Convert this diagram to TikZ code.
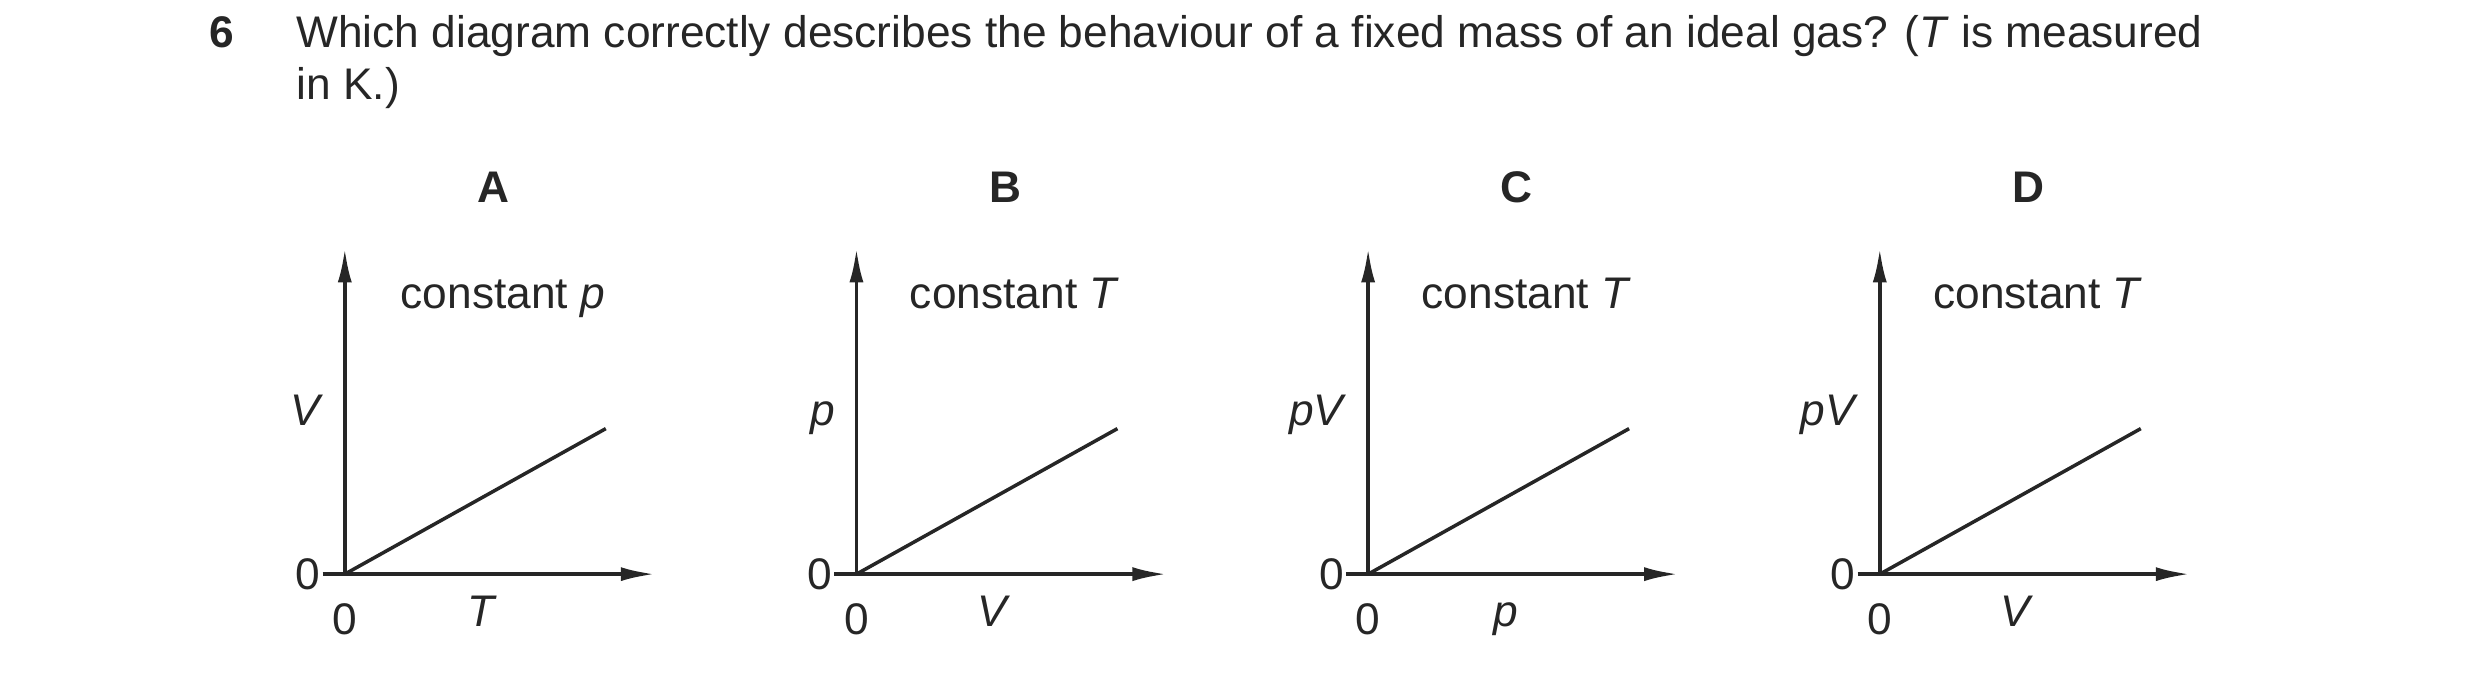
\documentclass[tikz,border=0pt]{standalone}
\usepackage{fontspec}
\setmainfont{Liberation Sans}
\usetikzlibrary{arrows.meta, positioning}

\tikzset{
    axis/.style = {line width = 1pt, -{Latex[length=0.34cm, width=0.14cm]}},
    graphline/.style = {line width = 1pt},
    lbl/.style = {font = \fontsize{12.6}{15}\selectfont, inner sep = 0pt}
}

\begin{document}
\begin{tikzpicture}[x = 0.01582cm, y = -0.01582cm, black!85]

    \useasboundingbox (0,0) rectangle (1568,429);

    % question
    \node[lbl, anchor = base west] (num) at (132,30) {\textbf{6}};
    \node[lbl, anchor = base west] (question) at (187,30)
        {Which diagram correctly describes the behaviour of a fixed mass of an ideal gas? (\textit{T} is measured};
    \node[lbl, anchor = base west] (question2) at (187,63) {in K.)};

    % the four graphs
    \foreach \N/\LETTER/\XLAB/\YLAB/\CONST in {0/A/T/V/p, 1/B/V/p/T, 2/C/p/pV/T, 3/D/V/pV/T} {
        \begin{scope}[shift = {(\N*323.5,0)}]
            \coordinate (O\N) at (218,363);
            \coordinate (left\N) at (204,363);
            \coordinate (top\N) at (218,157);
            \coordinate (right\N) at (414,363);
            \coordinate (end\N) at (383,271);

            \node[lbl, anchor = base] (letter\N) at (312,128) {\textbf{\LETTER}};
            \node[lbl, anchor = base] (const\N) at (318,195) {constant \textit{\CONST}};

            \draw[axis] (O\N) -- (top\N);
            \draw[axis] (left\N) -- (right\N);
            \draw[graphline] (O\N) -- (end\N);

            \node[lbl, anchor = east] (zeroy\N) at (203,363) {0};
            \node[lbl, anchor = north] (zerox\N) at (218,381) {0};
            \node[lbl, anchor = base] (xlab\N) at (305,396) {\textit{\XLAB}};
            \node[lbl, anchor = base east] (ylab\N) at (205,269) {\textit{\YLAB}};
        \end{scope}
    }

\end{tikzpicture}
\end{document}
